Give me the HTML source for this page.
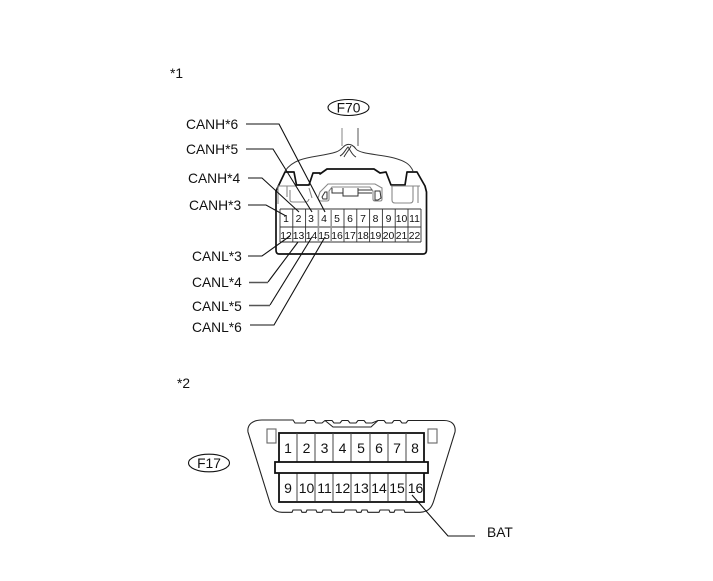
<!DOCTYPE html>
<html>
<head>
<meta charset="utf-8">
<style>
html,body{margin:0;padding:0;background:#fff;}
svg{display:block;}
text{font-family:"Liberation Sans",sans-serif;fill:#111;}
</style>
</head>
<body>
<svg width="713" height="581" viewBox="0 0 713 581" xmlns="http://www.w3.org/2000/svg">
<rect width="713" height="581" fill="#fff"/>
<g font-size="13.8">
<text x="170" y="78">*1</text>
<text x="177" y="388">*2</text>
<text x="186" y="129">CANH*6</text>
<text x="186" y="154">CANH*5</text>
<text x="188" y="183">CANH*4</text>
<text x="189" y="210">CANH*3</text>
<text x="192" y="261">CANL*3</text>
<text x="192" y="287">CANL*4</text>
<text x="192" y="311">CANL*5</text>
<text x="192" y="332">CANL*6</text>
<text x="487" y="537">BAT</text>
</g>

<!-- F70 -->
<ellipse cx="348.500" cy="107.500" rx="20.500" ry="8" fill="none" stroke="#111" stroke-width="1.1"/>
<text x="348.500" y="112.500" font-size="13.8" text-anchor="middle">F70</text>
<g fill="none" stroke="#333" stroke-width="1">
<path d="M342 128V146" stroke="#999" stroke-width="1.2"/>
<path d="M358 128V146" stroke="#555"/>
<path d="M285 171C296 155 318 158 336 152C342 150 343 146 346 145C350 143 354 146 356 149C360 154 378 154 394 158C405 161 410 164 413 171"/>
<path d="M340 156C344 154 345 150 348 147C351 151 352 155 356 157M344 157C346 153 349 150 351 146"/>
</g>
<path d="M276 250V191L285 172H294L296.500 185H309L313 173H320V174L327 169H374L380 173L386 172L391 185H405L407 172H417L425 186L426.500 192V250Q426.500 254 423 254H279Q276 254 276 250Z" fill="#fff" stroke="#111" stroke-width="1.7" stroke-linejoin="round"/>
<!-- gray detail lines -->
<g fill="none" stroke="#888" stroke-width="1.1">
<path d="M277 186H296M278 186V204M287 186V197M418 186V203M391 186H420"/>
<path d="M290 190V200Q290 202 293 202H306Q308 202 309 199M309 188L312 198"/>
<path d="M392 186V200Q392 203 395 203H410Q413 203 413 200V186"/>
<path d="M318 198L320 192L328 184H375L382 188V199Q382 201 380 201H375Q373 201 373 199V191L370 187H332L329 191V199Q329 201 327 201H321Q319 201 318 198Z"/>
</g>
<g fill="none" stroke="#333" stroke-width="1">
<path d="M322 197L325 192H327V199H323Z"/>
<path d="M375 191H380L381 198L378 200H375Z"/>
<path d="M332 188V193H343V188M358 188V193H372M343 192V196H358V190H372"/>
</g>

<!-- grid -->
<g stroke="#333" stroke-width="0.9" fill="none">
<path d="M280 209H421M280 227H421M280 242H421M280 209V242M421 209V242"/>
<path d="M292.800 209V242M305.600 209V242M369.600 209V242M382.400 209V242M395.200 209V242M408 209V242M344 209V242M356.800 209V242"/>
<path d="M318.400 209V242M331.200 209V242" stroke="#999" stroke-width="1.6"/>
</g>
<g font-size="10.4" text-anchor="middle">
<text x="286" y="222">1</text><text x="298.500" y="222">2</text><text x="311" y="222">3</text><text x="324" y="222">4</text><text x="337" y="222">5</text><text x="350" y="222">6</text><text x="363" y="222">7</text><text x="375.500" y="222">8</text><text x="388.500" y="222">9</text><text x="401.500" y="222">10</text><text x="414.500" y="222">11</text>
<text x="286" y="239">12</text><text x="298.500" y="239">13</text><text x="311.500" y="239">14</text><text x="324" y="239">15</text><text x="337" y="239">16</text><text x="350" y="239">17</text><text x="363" y="239">18</text><text x="375.500" y="239">19</text><text x="388.500" y="239">20</text><text x="401.500" y="239">21</text><text x="414.500" y="239">22</text>
</g>

<!-- leader lines -->
<g fill="none" stroke="#111" stroke-width="1.1">
<path d="M246 124H279L325 212"/>
<path d="M246 149H273L312 212"/>
<path d="M248 178H262L299 212"/>
<path d="M248 205H266L286 216"/>
<path d="M248 256H262L290 236"/>
<path d="M268 282L298 242"/>
<path d="M270 305L312 237"/>
<path d="M250 325H274L325 237"/>
</g>
<path d="M249 282.500H268M249 305.500H270" stroke="#555" stroke-width="1.4" fill="none"/>

<!-- F17 -->
<ellipse cx="209" cy="463" rx="20.500" ry="8.800" fill="none" stroke="#111" stroke-width="1.1"/>
<text x="209" y="468" font-size="13.8" text-anchor="middle">F17</text>
<path d="M262 420H293L295 423H305L307 420.500H314L316 423H322L325 420.500H332L334 423H340L342 420.500H348L350 423H356L358 420.500H364L366 423H372L378 420.500H384L386 423H392L394 420.500H400L402 423H406L408 420.500H444C452 420.500 456 425 455 432L434 500C432 507 429 512 420 512.300H405L404 510H395L394 512.300H390L389 510H380L379 512.300H368L367 510H362L361 512.300H357L356 510H345L344 512.300H332L331 510H323L322 512.300H317L316 510H307L306 512.300H302L301 510H293L292 512.300H282C276 512.300 272 509 270 503L248 432C247 425 252 420 262 420Z" fill="#fff" stroke="#222" stroke-width="1.1"/>
<path d="M325 420.500L333 427H371L378 420.500" fill="none" stroke="#222" stroke-width="1.1"/>
<rect x="267" y="429" width="9" height="14" fill="#fff" stroke="#666" stroke-width="1.1"/>
<rect x="428" y="429" width="9" height="14" fill="#fff" stroke="#666" stroke-width="1.1"/>
<rect x="279" y="433" width="145" height="69" fill="#fff" stroke="#111" stroke-width="1.8"/>
<g stroke="#444" stroke-width="1">
<path d="M297 433V501M315 433V501M333 433V501M351 433V501M370 433V501M388 433V501M406 433V501"/>
</g>
<rect x="275" y="462" width="153" height="11" fill="#fff" stroke="#111" stroke-width="1.8"/>
<g font-size="14" text-anchor="middle">
<text x="288" y="453">1</text><text x="306.500" y="453">2</text><text x="324.500" y="453">3</text><text x="342.500" y="453">4</text><text x="361" y="453">5</text><text x="379" y="453">6</text><text x="397" y="453">7</text><text x="415" y="453">8</text>
<text x="288" y="493">9</text><text x="306.500" y="493">10</text><text x="324.500" y="493">11</text><text x="342.500" y="493">12</text><text x="361" y="493">13</text><text x="379" y="493">14</text><text x="397" y="493">15</text><text x="415.500" y="493">16</text>
</g>
<path d="M412 495L448 536H475" fill="none" stroke="#111" stroke-width="1.1"/>
</svg>
</body>
</html>
